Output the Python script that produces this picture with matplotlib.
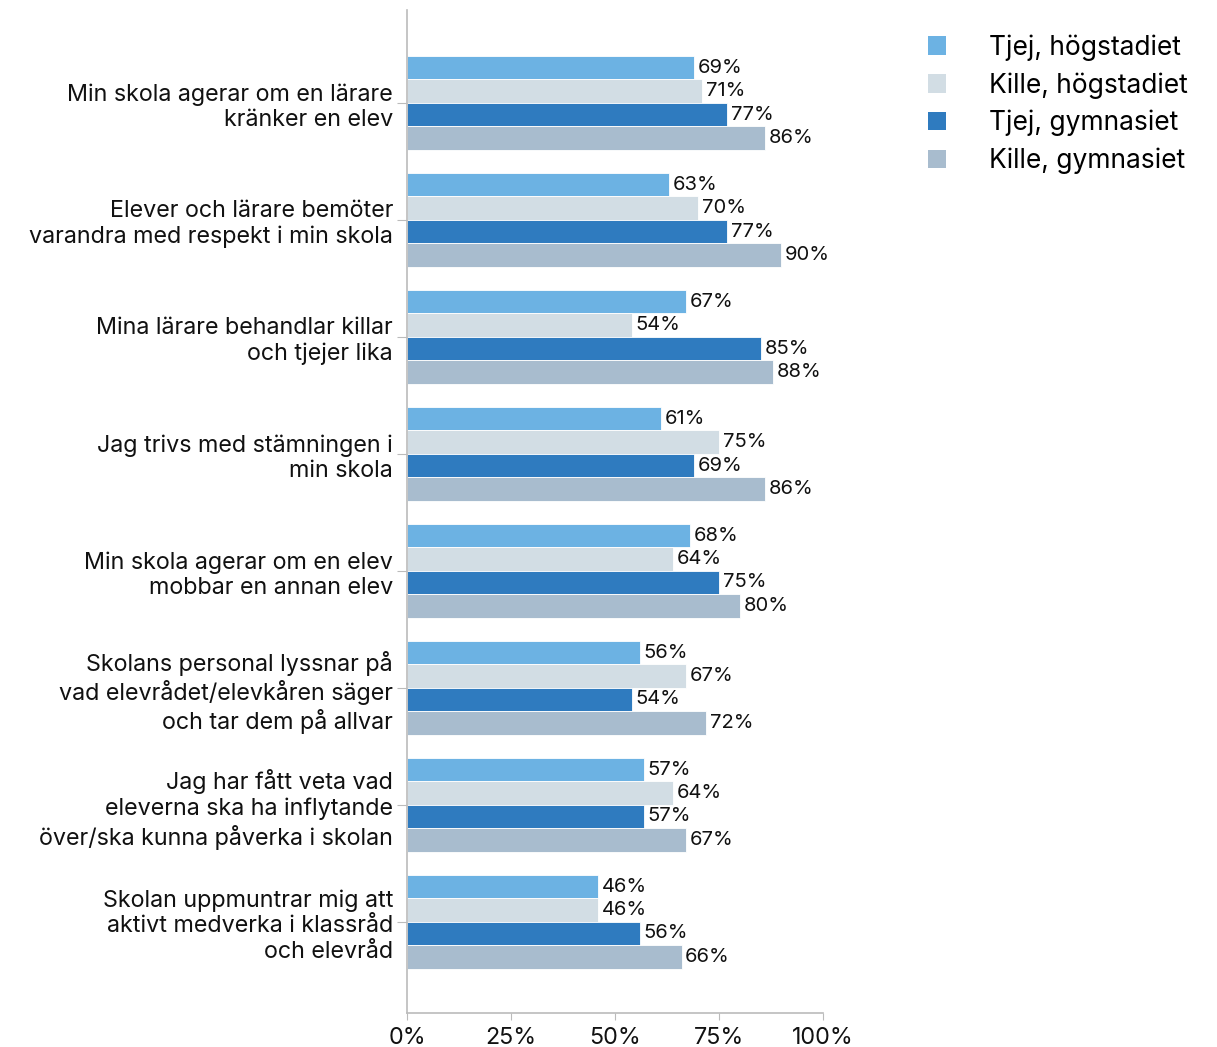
import matplotlib
matplotlib.use("Agg")
import matplotlib.pyplot as plt
from matplotlib.patches import Patch
import numpy as np

plt.rcParams['font.family'] = ['Inter', 'DejaVu Sans']

questions = [
    "Min skola agerar om en lärare\nkränker en elev",
    "Elever och lärare bemöter\nvarandra med respekt i min skola",
    "Mina lärare behandlar killar\noch tjejer lika",
    "Jag trivs med stämningen i\nmin skola",
    "Min skola agerar om en elev\nmobbar en annan elev",
    "Skolans personal lyssnar på\nvad elevrådet/elevkåren säger\noch tar dem på allvar",
    "Jag har fått veta vad\neleverna ska ha inflytande\növer/ska kunna påverka i skolan",
    "Skolan uppmuntrar mig att\naktivt medverka i klassråd\noch elevråd",
]
series_names = ["Tjej, högstadiet", "Kille, högstadiet", "Tjej, gymnasiet", "Kille, gymnasiet"]
tjej_hog = [69, 63, 67, 61, 68, 56, 57, 46]
kille_hog = [71, 70, 54, 75, 64, 67, 64, 46]
tjej_gym = [77, 77, 85, 69, 75, 54, 57, 56]
kille_gym = [86, 90, 88, 86, 80, 72, 67, 66]
colors = ["#6CB2E3", "#D2DDE4", "#2F7BBF", "#A8BCCE"]

fig = plt.figure(figsize=(12.17, 10.47), dpi=100)
ax = fig.add_axes([0.3344, 0.0325, 0.3418, 0.9575])

y = np.arange(len(questions))
h = 0.2
for i, (vals, c) in enumerate(zip([tjej_hog, kille_hog, tjej_gym, kille_gym], colors)):
    pos = y - 1.5 * h + i * h
    ax.barh(pos, vals, height=h, color=c, edgecolor="white", linewidth=0.6)
    for p, v in zip(pos, vals):
        ax.text(v + 0.9, p, f"{v}%", va="center", ha="left", fontsize=14.5, color="#111111")

ax.set_ylim(7.78, -0.79)
ax.set_xlim(0, 100)
ax.set_yticks(y)
ax.set_yticklabels(questions, fontsize=16.8, color="#111111", linespacing=1.22)
ax.set_xticks([0, 25, 50, 75, 100])
ax.set_xticklabels(["0%", "25%", "50%", "75%", "100%"], fontsize=16.8, color="#111111")
for s in ["top", "right"]:
    ax.spines[s].set_visible(False)
for s in ["left", "bottom"]:
    ax.spines[s].set_color("#BBBBBB")
    ax.spines[s].set_linewidth(1.2)
ax.tick_params(axis="y", length=7, color="#BBBBBB", pad=3)
ax.tick_params(axis="x", length=5, color="#BBBBBB", pad=5)

handles = [Patch(facecolor=c, edgecolor="none") for c in colors]
fig.legend(handles, series_names, loc="upper left", bbox_to_anchor=(0.743, 0.99),
           frameon=False, fontsize=19, handlelength=0.7, handleheight=0.7,
           handletextpad=1.6, labelspacing=0.43)

fig.savefig("out.png", dpi=100)
